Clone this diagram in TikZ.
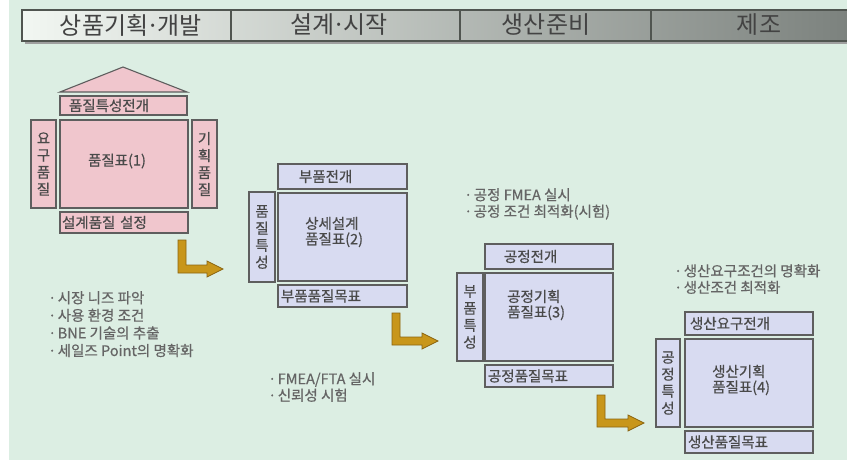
\documentclass[tikz,border=0pt]{standalone}
\usepackage{fontspec}
\setmainfont{Noto Sans CJK KR}[FakeBold=0.6]
\newfontfamily\hdrfont{Noto Sans CJK KR}
\newcommand\mdot{\kern-0.08em·\kern-0.08em}
\newcommand\bul{·\kern0.1em}
\definecolor{bgmint}{HTML}{DCEEE3}
\definecolor{hdrL}{HTML}{F2F7F2}
\definecolor{hdrR}{HTML}{7C827E}
\definecolor{hdrline}{HTML}{505550}
\definecolor{pinkfill}{HTML}{F0C6CD}
\definecolor{bluefill}{HTML}{D8DBF1}
\definecolor{boxline}{HTML}{5E5E5E}
\definecolor{txt}{HTML}{4A4A4A}
\definecolor{gold}{HTML}{C8961A}
\definecolor{goldline}{HTML}{8A6410}
\tikzset{
  hdrtext/.style={font=\hdrfont\fontsize{24}{24}\selectfont, text=txt!90!black, inner sep=0},
  cell/.style={draw=boxline, line width=1.1pt, anchor=north west, inner sep=0, outer sep=0,
     font=\fontsize{14.5}{17}\selectfont, text=txt},
  pinkbox/.style={cell, fill=pinkfill},
  bluebox/.style={cell, fill=bluefill},
  hbox/.style={align=left, inner xsep=0, text width=#1},
  vbox/.style={align=center},
  maintext/.style={font=\fontsize{14.5}{15.5}\selectfont, text=txt, align=left, inner sep=0},
  bullets/.style={font=\fontsize{14.5}{#1}\selectfont, text=txt!85, align=left, inner sep=0, anchor=north west},
  goldL/.pic={\filldraw[fill=gold, draw=goldline, line width=0.8pt]
     (0,0) -- (8,0) -- (8,\pgfkeysvalueof{/tikz/goldlen}-8) -- (\pgfkeysvalueof{/tikz/goldrun},\pgfkeysvalueof{/tikz/goldlen}-8)
     -- (\pgfkeysvalueof{/tikz/goldrun},\pgfkeysvalueof{/tikz/goldlen}-12) -- (\pgfkeysvalueof{/tikz/goldrun}+16,\pgfkeysvalueof{/tikz/goldlen}-4)
     -- (\pgfkeysvalueof{/tikz/goldrun},\pgfkeysvalueof{/tikz/goldlen}+4) -- (\pgfkeysvalueof{/tikz/goldrun},\pgfkeysvalueof{/tikz/goldlen})
     -- (0,\pgfkeysvalueof{/tikz/goldlen}) -- cycle;},
  goldlen/.initial=33, goldrun/.initial=29
}
\begin{document}
\begin{tikzpicture}[x=1pt,y=-1pt]
\useasboundingbox (0,0) rectangle (847,460);
\fill[white] (0,0) rectangle (847,460);
\fill[bgmint] (9,0) rectangle (847,460);
% header
\fill[gray!75] (25,14) rectangle (847,44);
\shade[left color=hdrL, right color=hdrR] (22,10) rectangle (847,41);
\draw[hdrline, line width=1.2pt] (847,10) -- (22,10) -- (22,41) -- (847,41);
\draw[hdrline, line width=1.2pt] (231,10) -- (231,41) (460,10) -- (460,41) (651,10) -- (651,41);
\node[hdrtext] (h1) at (131,25) {상품기획\mdot 개발};
\node[hdrtext] (h2) at (339,25) {설계\mdot 시작};
\node[hdrtext] (h3) at (546,25) {생산준비};
\node[hdrtext] (h4) at (759,25) {제조};

% block 1
\filldraw[fill=pinkfill, draw=boxline, line width=1.1pt] (60,92) -- (123,67) -- (187,92) -- cycle;
\node[pinkbox, hbox=127pt, minimum height=19pt] (b1top) at (60,96) {\hspace*{9pt}품질특성전개};
\node[pinkbox, vbox, minimum width=25pt, minimum height=88pt] (b1left) at (31,120) {요\\구\\품\\질};
\node[pinkbox, minimum width=128pt, minimum height=88pt] (b1main) at (60,120) {};
\node[pinkbox, vbox, minimum width=25pt, minimum height=88pt] (b1right) at (192,120) {기\\획\\품\\질};
\node[pinkbox, hbox=128pt, minimum height=21pt] (b1bot) at (60,212) {\hspace*{2pt}설계품질 설정};
\node[maintext] (t1) at (117,161) {품질표(1)};

% block 2
\node[bluebox, hbox=129pt, minimum height=25pt] (b2top) at (278,164) {\hspace*{21pt}부품전개};
\node[bluebox, vbox, minimum width=26pt, minimum height=90pt] (b2left) at (249,192) {품\\질\\특\\성};
\node[bluebox, minimum width=129pt, minimum height=88pt] (b2main) at (278,193) {};
\node[bluebox, hbox=129pt, minimum height=22pt] (b2bot) at (278,285) {\hspace*{3pt}부품품질목표};
\node[maintext, anchor=west] (t2) at (305,232) {상세설계\\품질표(2)};

% block 3
\node[bluebox, hbox=128pt, minimum height=25pt] (b3top) at (485,244) {\hspace*{19pt}공정전개};
\node[bluebox, vbox, minimum width=26pt, minimum height=88pt] (b3left) at (457,273) {부\\품\\특\\성};
\node[bluebox, minimum width=128pt, minimum height=88pt] (b3main) at (485,273) {};
\node[bluebox, hbox=128pt, minimum height=22pt] (b3bot) at (485,365) {\hspace*{3pt}공정품질목표};
\node[maintext, anchor=west] (t3) at (507,305) {공정기획\\품질표(3)};

% block 4
\node[bluebox, hbox=128pt, minimum height=23pt] (b4top) at (685,312) {\hspace*{5pt}생산요구전개};
\node[bluebox, vbox, minimum width=24pt, minimum height=88pt] (b4left) at (656,339) {공\\정\\특\\성};
\node[bluebox, minimum width=128pt, minimum height=88pt] (b4main) at (685,339) {};
\node[bluebox, hbox=128pt, minimum height=22pt] (b4bot) at (685,431) {\hspace*{3pt}생산품질목표};
\node[maintext, anchor=west] (t4) at (712,380) {생산기획\\품질표(4)};

% arrows
\pic (a1) at (178,240) {goldL};
\pic[goldlen=32, goldrun=30] (a2) at (392,313) {goldL};
\pic[goldlen=32, goldrun=31] (a3) at (597,395) {goldL};

% bullet texts
\node[bullets=17.6] (n1) at (48,291) {\bul 시장 니즈 파악\\\bul 사용 환경 조건\\\bul BNE 기술의 추출\\\bul 세일즈 Point의 명확화};
\node[bullets=16.5] (n2) at (268,372) {\bul FMEA/FTA 실시\\\bul 신뢰성 시험};
\node[bullets=16.5] (n3) at (464,188) {\bul 공정 FMEA 실시\\\bul 공정 조건 최적화(시험)};
\node[bullets=16.5] (n4) at (674,264) {\bul 생산요구조건의 명확화\\\bul 생산조건 최적화};
\end{tikzpicture}
\end{document}
